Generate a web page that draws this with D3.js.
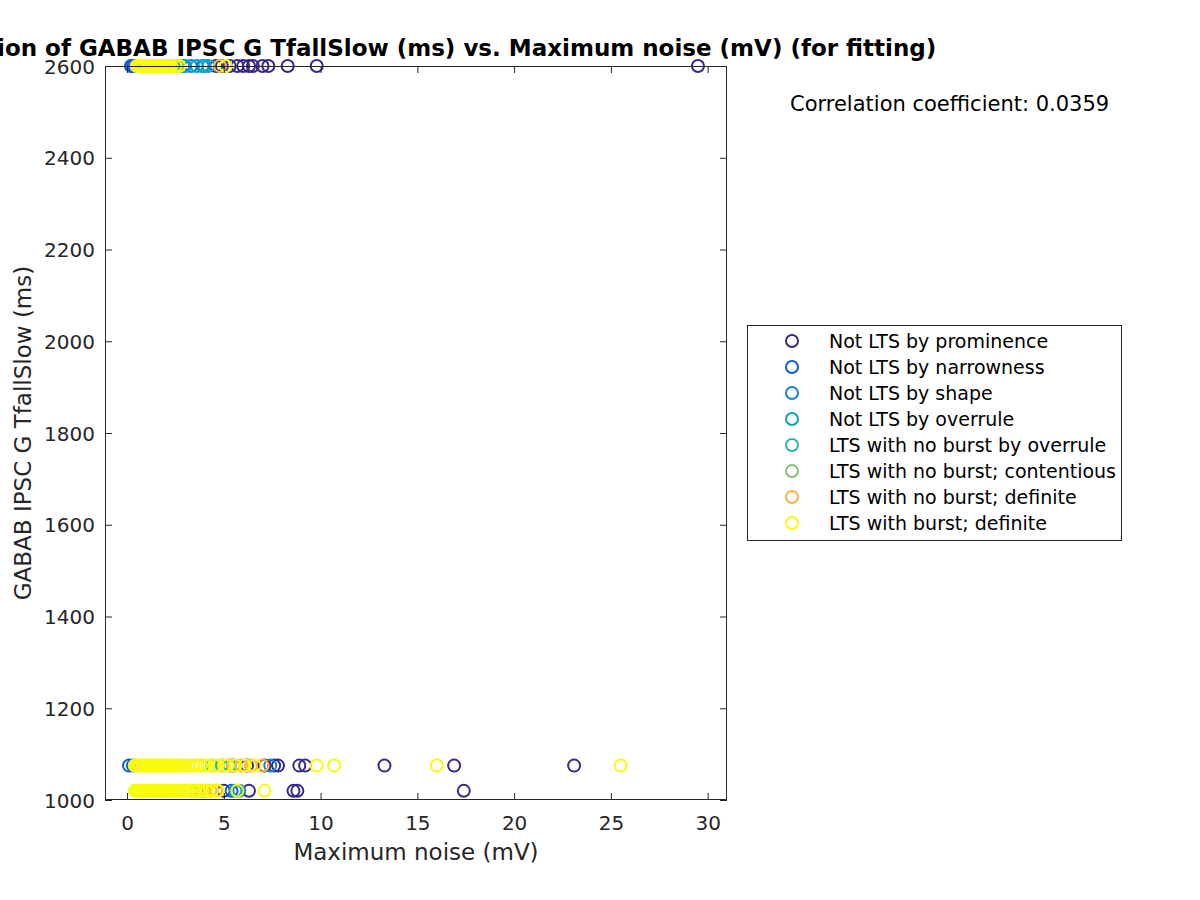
<!DOCTYPE html>
<html>
<head>
<meta charset="utf-8">
<script src="https://cdn.jsdelivr.net/npm/d3@7/dist/d3.min.js"></script>
<style>
  body { margin: 0; background: #fff; }
  svg { display: block; font-family: "DejaVu Sans", sans-serif; }
</style>
</head>
<body>
<svg id="chart" width="1200" height="900"></svg>
<script>
// ---- data ----
const groupNames = [
  "Not LTS by prominence",
  "Not LTS by narrowness",
  "Not LTS by shape",
  "Not LTS by overrule",
  "LTS with no burst by overrule",
  "LTS with no burst; contentious",
  "LTS with no burst; definite",
  "LTS with burst; definite"
];
const groupColors = ["#352a87", "#0f5cdd", "#1481d6", "#06a4ca", "#2eb7a4", "#87bf77", "#fbb535", "#f9fb0e"];

// row values of GABAB IPSC G TfallSlow (ms)
const rowValues = [2600, 1075, 1020];

// Maximum noise (mV) per group, per row [2600, 1075, 1020]
const prominenceX = [
  [4.6, 4.9, 5.3, 5.7, 6.0, 6.3, 6.5, 7.0, 7.3, 8.3, 9.8, 29.5],
  [6.2, 7.1, 7.6, 7.8, 8.9, 9.2, 13.3, 16.9, 23.1],
  [5.0, 6.3, 8.6, 8.8, 17.4]
];
const narrownessX = [
  [0.2, 0.3, 0.4],
  [0.1, 0.3],
  [5.4]
];
const shapeX = [
  [2.9, 3.3, 3.9],
  [5.5, 7.4],
  [5.8]
];
const overruleX = [
  [3.0, 3.6, 4.0, 4.2],
  [4.9, 5.3],
  [5.6]
];
const noBurstOverruleX = [
  [2.4],
  [4.4],
  [3.9]
];
const contentiousX = [
  [2.6],
  [3.8],
  [3.3]
];
const noBurstDefiniteX = [
  [4.8],
  [5.5, 5.9, 6.4, 7.0],
  [3.6, 4.0, 4.3, 4.6]
];
const burstDefiniteX = [
  [0.5, 0.6, 0.7, 0.8, 0.9, 1.0, 1.1, 1.2, 1.3, 1.4, 1.5, 1.6, 1.7, 1.8, 1.9, 2.0, 2.1, 2.2, 2.3, 2.5, 2.7, 5.1],
  [0.4, 0.5, 0.6, 0.7, 0.8, 0.9, 1.0, 1.1, 1.2, 1.3, 1.4, 1.5, 1.6, 1.7, 1.8, 1.9, 2.0, 2.1, 2.2, 2.3, 2.4, 2.5, 2.6, 2.7, 2.8, 2.9, 3.0, 3.2, 3.4, 3.6, 3.8, 4.0, 4.2, 4.5, 4.7, 5.0, 5.2, 5.6, 6.1, 6.6, 9.8, 10.7, 16.0, 25.5],
  [0.4, 0.5, 0.6, 0.7, 0.8, 0.9, 1.0, 1.1, 1.2, 1.3, 1.4, 1.5, 1.6, 1.7, 1.8, 1.9, 2.0, 2.1, 2.2, 2.3, 2.4, 2.5, 2.6, 2.7, 2.8, 2.9, 3.0, 3.2, 3.4, 3.5, 3.7, 3.9, 4.1, 4.4, 4.7, 5.7, 7.1]
];
const groupX = [prominenceX, narrownessX, shapeX, overruleX, noBurstOverruleX, contentiousX, noBurstDefiniteX, burstDefiniteX];

const xTicks = [0, 5, 10, 15, 20, 25, 30];
const yTicks = [1000, 1200, 1400, 1600, 1800, 2000, 2200, 2400, 2600];
const xDomain = [-1.14, 31];
const yDomain = [1000, 2600];
const titleText = "Correlation of GABAB IPSC G TfallSlow (ms) vs. Maximum noise (mV) (for fitting)";
const xLabel = "Maximum noise (mV)";
const yLabel = "GABAB IPSC G TfallSlow (ms)";
const corrText = "Correlation coefficient: 0.0359";

// ---- layout ----
const svg = d3.select("#chart");
const L = 105, R = 727, T = 66, B = 800;
const axisColor = "#262626";
const x = d3.scaleLinear().domain(xDomain).range([L, R]);
const y = d3.scaleLinear().domain(yDomain).range([B, T]);
const tickLen = 7;
const markerR = 6;
const markerW = 2;

// points
const pts = [];
groupX.forEach((rows, gi) => {
  rows.forEach((xs, ri) => {
    xs.forEach(v => pts.push({g: gi, x: v, y: rowValues[ri]}));
  });
});
svg.append("g").selectAll("circle").data(pts).join("circle")
  .attr("cx", d => x(d.x)).attr("cy", d => y(d.y)).attr("r", markerR)
  .attr("fill", "none").attr("stroke", d => groupColors[d.g]).attr("stroke-width", markerW);

// axes
const fontTick = 20;
const xAxisB = d3.axisBottom(x).tickValues(xTicks).tickSize(-tickLen).tickFormat(d3.format("d"));
const xAxisT = d3.axisTop(x).tickValues(xTicks).tickSize(-tickLen).tickFormat("");
const yAxisL = d3.axisLeft(y).tickValues(yTicks).tickSize(-tickLen).tickFormat(d3.format("d"));
const yAxisR = d3.axisRight(y).tickValues(yTicks).tickSize(-tickLen).tickFormat("");

function styleAxis(g) {
  g.select(".domain").remove();
  g.selectAll(".tick line").attr("stroke", axisColor).attr("stroke-width", 1);
  g.selectAll(".tick text").attr("fill", axisColor).style("font-size", fontTick + "px")
    .style("font-family", "DejaVu Sans, sans-serif");
}
svg.append("g").attr("transform", `translate(0,${B})`).call(xAxisB).call(styleAxis)
  .selectAll(".tick text").attr("y", 30).attr("dy", 0);
svg.append("g").attr("transform", `translate(0,${T})`).call(xAxisT).call(styleAxis);
svg.append("g").attr("transform", `translate(${L},0)`).call(yAxisL).call(styleAxis)
  .selectAll(".tick text").attr("x", -10).attr("dy", "0.36em");
svg.append("g").attr("transform", `translate(${R},0)`).call(yAxisR).call(styleAxis);

svg.append("rect").attr("x", L + 0.5).attr("y", T + 0.5).attr("width", R - L - 1).attr("height", B - T - 1)
  .attr("fill", "none").attr("stroke", axisColor).attr("stroke-width", 1);

// labels
svg.append("text").attr("x", 414).attr("y", 56).attr("text-anchor", "middle")
  .style("font-size", "23px").style("font-weight", "bold").attr("fill", "#000").text(titleText);
svg.append("text").attr("x", (L + R) / 2).attr("y", 860).attr("text-anchor", "middle")
  .style("font-size", "23px").attr("fill", axisColor).text(xLabel);
svg.append("text").attr("transform", `translate(31,${(T + B) / 2}) rotate(-90)`).attr("text-anchor", "middle")
  .style("font-size", "23px").attr("fill", axisColor).text(yLabel);
svg.append("text").attr("x", 790).attr("y", 111)
  .style("font-size", "21px").attr("fill", "#000").text(corrText);

// legend
const lg = svg.append("g");
lg.append("rect").attr("x", 747.5).attr("y", 325.5).attr("width", 374).attr("height", 215)
  .attr("fill", "#fff").attr("stroke", axisColor).attr("stroke-width", 1);
groupNames.forEach((name, i) => {
  const cy = 341 + i * 26;
  lg.append("circle").attr("cx", 792).attr("cy", cy).attr("r", markerR)
    .attr("fill", "none").attr("stroke", groupColors[i]).attr("stroke-width", markerW);
  lg.append("text").attr("x", 829).attr("y", cy + 7).style("font-size", "19px").attr("fill", "#000").text(name);
});
</script>
</body>
</html>
